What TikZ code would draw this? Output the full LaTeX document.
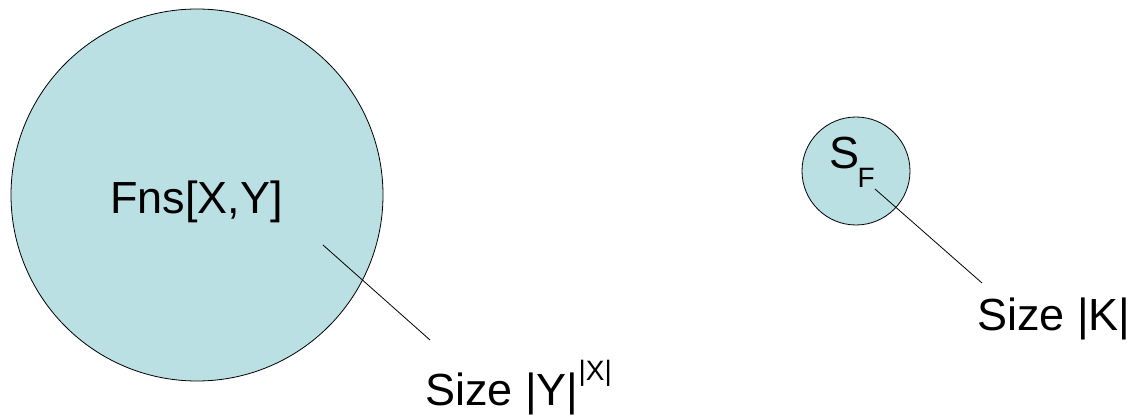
\documentclass[tikz,border=0pt]{standalone}
\usepackage{fontspec}
\setmainfont{Liberation Sans}
\definecolor{setfill}{RGB}{186,224,227}
\begin{document}
\begin{tikzpicture}[x=1pt,y=-1pt,
  setcirc/.style={circle,draw=black,line width=0.8pt,fill=setfill,inner sep=0pt},
  lbl/.style={anchor=base west,inner sep=0pt,font=\fontsize{45}{50}\selectfont},
  leader/.style={draw=black,line width=0.8pt}]
\useasboundingbox (0,0) rectangle (1130,417);
\node[setcirc,minimum size=108pt] (small) at (856,171) {};
\node[setcirc,minimum size=372pt] (big) at (197,195) {};
\node[lbl] (fns) at (110,213) {Fns[X,Y]};
\node[lbl] (sy) at (425,405) {Size |Y|\raisebox{25pt}{\fontsize{28}{30}\selectfont|X|}};
\node[lbl] (sf) at (829,168) {S\kern-1.5pt\raisebox{-19pt}{\fontsize{28}{30}\selectfont F}};
\node[lbl] (sk) at (977,330) {Size |K|};
\coordinate (a1) at (323,245);
\coordinate (a2) at (430,340);
\coordinate (b1) at (875,189);
\coordinate (b2) at (982,283);
\draw[leader] (a1) -- (a2);
\draw[leader] (b1) -- (b2);
\end{tikzpicture}
\end{document}
